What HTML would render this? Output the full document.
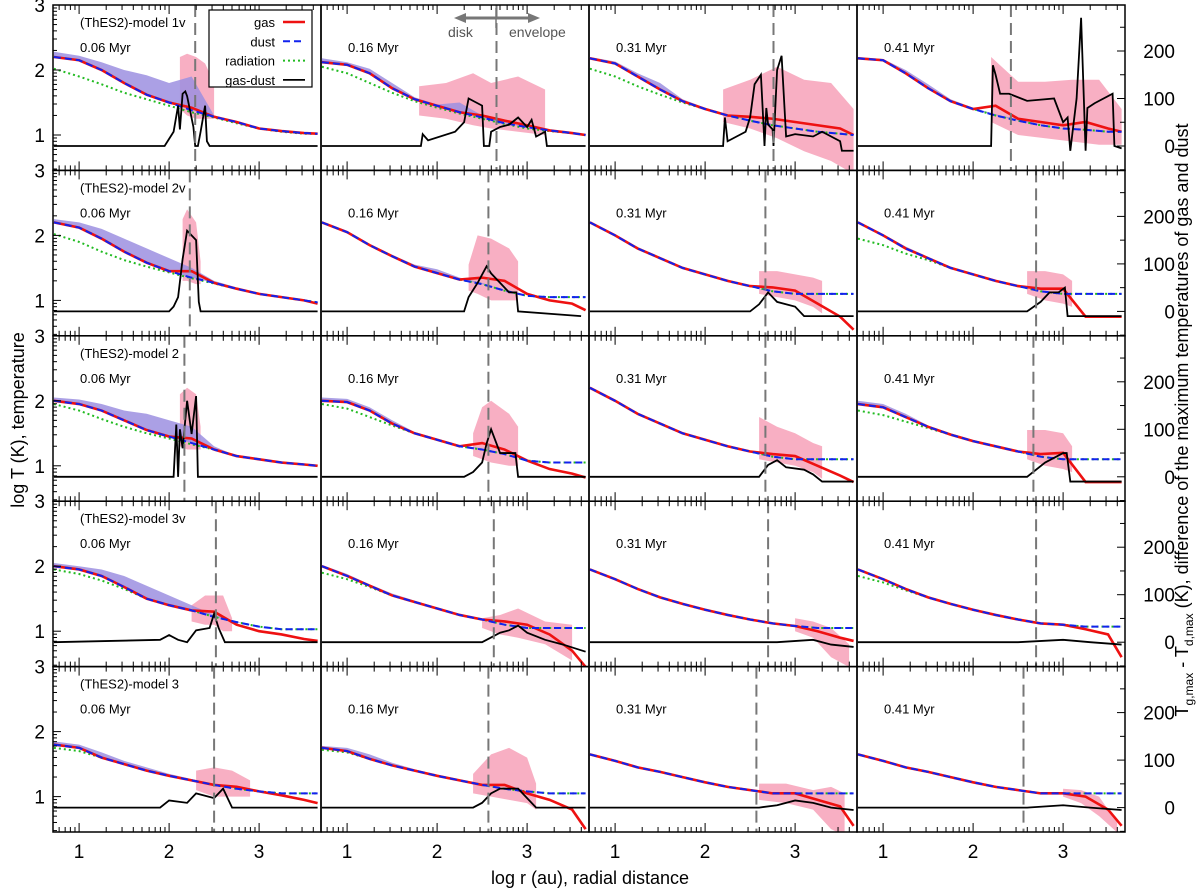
<!DOCTYPE html>
<html><head><meta charset="utf-8"><style>
body{margin:0;background:#fff;}
svg{display:block;font-family:"Liberation Sans",Arial,sans-serif;}
</style></head><body>
<svg id="chart" width="1200" height="894" viewBox="0 0 1200 894" xmlns="http://www.w3.org/2000/svg">
<text transform="translate(24,420) rotate(-90)" text-anchor="middle" font-size="18">log T (K), temperature</text>
<text transform="translate(1188,420) rotate(-90)" text-anchor="middle" font-size="18">T<tspan font-size="12" dy="5">g,max</tspan><tspan dy="-5"> - T</tspan><tspan font-size="12" dy="5">d,max</tspan><tspan dy="-5"> (K), difference of the maximum temperatures of gas and dust</tspan></text>
<text x="590" y="884" text-anchor="middle" font-size="18">log r (au), radial distance</text>
<g id="panels"></g>
</svg>
<script>
const xd=[0.72,1,1.25,1.5,1.75,2,2.25,2.5,2.75,3,3.25,3.5,3.65];
const modelNames=["(ThES2)-model 1v","(ThES2)-model 2v","(ThES2)-model 2","(ThES2)-model 3v","(ThES2)-model 3"];
const times=["0.06 Myr","0.16 Myr","0.31 Myr","0.41 Myr"];
const dashX=[2.29,2.66,2.76,2.42, 2.23,2.57,2.67,2.7, 2.17,2.57,2.67,2.67, 2.52,2.63,2.7,2.7, 2.5,2.57,2.57,2.56];
const dustT=[
[2.2,2.15,2.0,1.8,1.62,1.5,1.38,1.28,1.2,1.1,1.06,1.03,1.02],
[2.12,2.08,1.95,1.72,1.55,1.45,1.35,1.27,1.18,1.12,1.07,1.03,1.0],
[2.18,2.1,1.9,1.7,1.52,1.4,1.3,1.22,1.15,1.1,1.05,1.02,1.0],
[2.18,2.15,1.95,1.72,1.52,1.4,1.3,1.22,1.15,1.1,1.08,1.05,1.05],
[2.2,2.12,1.95,1.75,1.58,1.45,1.35,1.27,1.18,1.1,1.05,1.0,0.97],
[2.2,2.05,1.85,1.68,1.52,1.42,1.32,1.25,1.15,1.07,1.05,1.05,1.05],
[2.2,2.0,1.8,1.65,1.5,1.4,1.3,1.22,1.14,1.1,1.1,1.1,1.1],
[2.2,2.0,1.8,1.65,1.5,1.4,1.3,1.22,1.14,1.1,1.1,1.1,1.1],
[2.0,1.95,1.85,1.7,1.55,1.45,1.35,1.25,1.15,1.1,1.05,1.02,1.0],
[2.0,1.98,1.85,1.65,1.5,1.4,1.3,1.25,1.18,1.08,1.05,1.05,1.05],
[2.2,2.0,1.8,1.65,1.5,1.4,1.3,1.22,1.14,1.1,1.1,1.1,1.1],
[1.95,1.9,1.75,1.6,1.48,1.38,1.3,1.22,1.14,1.1,1.1,1.1,1.1],
[2.0,1.95,1.85,1.68,1.5,1.4,1.32,1.22,1.14,1.07,1.03,1.03,1.03],
[2.0,1.85,1.7,1.55,1.45,1.35,1.25,1.18,1.1,1.05,1.05,1.05,1.05],
[1.95,1.8,1.65,1.52,1.42,1.33,1.25,1.18,1.12,1.08,1.05,1.05,1.05],
[1.95,1.8,1.65,1.52,1.42,1.33,1.25,1.18,1.12,1.1,1.07,1.07,1.07],
[1.8,1.75,1.6,1.5,1.4,1.32,1.25,1.18,1.12,1.08,1.05,1.05,1.05],
[1.75,1.7,1.58,1.48,1.4,1.32,1.25,1.18,1.12,1.08,1.05,1.05,1.05],
[1.65,1.55,1.45,1.38,1.3,1.22,1.15,1.1,1.05,1.05,1.05,1.05,1.05],
[1.65,1.55,1.45,1.38,1.3,1.22,1.15,1.1,1.05,1.05,1.05,1.05,1.05]];
const gasT=[
[2.2,2.15,2.0,1.8,1.62,1.5,1.42,1.28,1.2,1.1,1.06,1.03,1.02],
[2.12,2.08,1.95,1.72,1.55,1.45,1.35,1.3,1.22,1.15,1.07,1.03,1.0],
[2.18,2.1,1.9,1.7,1.52,1.4,1.3,1.28,1.25,1.2,1.15,1.1,1.0],
[2.18,2.15,1.95,1.72,1.52,1.4,1.45,1.25,1.2,1.15,1.2,1.1,1.05],
[2.2,2.12,1.95,1.75,1.58,1.45,1.45,1.27,1.18,1.1,1.05,1.0,0.95],
[2.2,2.05,1.85,1.68,1.52,1.42,1.32,1.35,1.3,1.1,1.0,0.95,0.85],
[2.2,2.0,1.8,1.65,1.5,1.4,1.3,1.22,1.2,1.15,0.95,0.75,0.55],
[2.2,2.0,1.8,1.65,1.5,1.4,1.3,1.22,1.18,1.18,0.75,0.75,0.75],
[2.0,1.95,1.85,1.7,1.55,1.45,1.42,1.25,1.15,1.1,1.05,1.02,1.0],
[2.0,1.98,1.85,1.65,1.5,1.4,1.3,1.35,1.25,1.08,0.95,0.88,0.82],
[2.2,2.0,1.8,1.65,1.5,1.4,1.3,1.22,1.18,1.15,1.0,0.85,0.75],
[1.95,1.9,1.75,1.6,1.48,1.38,1.3,1.22,1.18,1.2,0.75,0.75,0.75],
[2.0,1.95,1.85,1.68,1.5,1.4,1.32,1.3,1.1,1.0,0.95,0.88,0.85],
[2.0,1.85,1.7,1.55,1.45,1.35,1.25,1.18,1.15,1.1,0.95,0.7,0.45],
[1.95,1.8,1.65,1.52,1.42,1.33,1.25,1.18,1.12,1.08,1.0,0.9,0.85],
[1.95,1.8,1.65,1.52,1.42,1.33,1.25,1.18,1.12,1.1,1.03,0.95,0.6],
[1.8,1.75,1.6,1.5,1.4,1.32,1.25,1.18,1.15,1.08,1.02,0.95,0.9],
[1.75,1.7,1.58,1.48,1.4,1.32,1.25,1.18,1.18,1.05,0.95,0.8,0.5],
[1.65,1.55,1.45,1.38,1.3,1.22,1.15,1.1,1.05,1.05,0.95,0.85,0.55],
[1.65,1.55,1.45,1.38,1.3,1.22,1.15,1.1,1.05,1.05,1.0,0.8,0.55]];
const radT=[
[2.02,1.9,1.78,1.65,1.55,1.45,1.35,1.27,1.18,1.1,1.05,1.02,1.02],
[2.05,1.95,1.8,1.65,1.52,1.42,1.33,1.25,1.17,1.1,1.06,1.03,1.0],
[2.02,1.9,1.75,1.62,1.5,1.4,1.3,1.22,1.15,1.1,1.05,1.02,1.0],
[2.18,2.15,1.95,1.72,1.52,1.4,1.3,1.22,1.15,1.1,1.08,1.05,1.05],
[2.02,1.9,1.75,1.62,1.52,1.43,1.34,1.26,1.18,1.1,1.05,1.0,0.97],
[2.2,2.05,1.85,1.68,1.52,1.42,1.32,1.25,1.15,1.07,1.05,1.05,1.05],
[2.2,2.0,1.8,1.65,1.5,1.4,1.3,1.22,1.14,1.1,1.1,1.1,1.1],
[1.95,1.85,1.72,1.62,1.5,1.4,1.3,1.22,1.14,1.1,1.1,1.1,1.1],
[1.95,1.85,1.72,1.6,1.5,1.42,1.33,1.25,1.15,1.1,1.05,1.02,1.0],
[1.95,1.88,1.75,1.62,1.5,1.4,1.3,1.25,1.18,1.08,1.05,1.05,1.05],
[2.2,2.0,1.8,1.65,1.5,1.4,1.3,1.22,1.14,1.1,1.1,1.1,1.1],
[1.85,1.78,1.68,1.58,1.48,1.38,1.3,1.22,1.14,1.1,1.1,1.1,1.1],
[1.95,1.88,1.78,1.65,1.5,1.4,1.32,1.22,1.14,1.07,1.03,1.03,1.03],
[1.9,1.8,1.68,1.55,1.45,1.35,1.25,1.18,1.1,1.05,1.05,1.05,1.05],
[1.95,1.8,1.65,1.52,1.42,1.33,1.25,1.18,1.12,1.08,1.05,1.05,1.05],
[1.85,1.75,1.63,1.52,1.42,1.33,1.25,1.18,1.12,1.1,1.07,1.07,1.07],
[1.75,1.7,1.6,1.5,1.4,1.32,1.25,1.18,1.12,1.08,1.05,1.05,1.05],
[1.72,1.68,1.58,1.48,1.4,1.32,1.25,1.18,1.12,1.08,1.05,1.05,1.05],
[1.65,1.55,1.45,1.38,1.3,1.22,1.15,1.1,1.05,1.05,1.05,1.05,1.05],
[1.65,1.55,1.45,1.38,1.3,1.22,1.15,1.1,1.05,1.05,1.05,1.05,1.05]];
const purpleT=[
[2.28,2.22,2.12,2.0,1.92,1.8,1.9,1.3,1.2,1.1,1.06,1.03,1.02],
[2.18,2.12,2.02,1.8,1.58,1.47,1.5,1.3,1.2,1.12,1.07,1.03,1.0],
[2.2,2.13,1.95,1.8,1.55,1.42,1.32,1.24,1.15,1.1,1.05,1.02,1.0],
[2.2,2.17,2.0,1.78,1.55,1.42,1.32,1.24,1.16,1.1,1.08,1.05,1.05],
[2.25,2.2,2.1,1.95,1.8,1.65,1.5,1.3,1.2,1.1,1.05,1.0,0.97],
[2.22,2.07,1.87,1.7,1.55,1.48,1.35,1.27,1.15,1.07,1.05,1.05,1.05],
[2.2,2.0,1.8,1.65,1.5,1.4,1.3,1.22,1.14,1.1,1.1,1.1,1.1],
[2.22,2.02,1.83,1.67,1.52,1.4,1.3,1.22,1.14,1.1,1.1,1.1,1.1],
[2.05,2.02,1.95,1.85,1.8,1.7,1.6,1.3,1.15,1.1,1.05,1.02,1.0],
[2.05,2.03,1.9,1.7,1.52,1.42,1.32,1.27,1.18,1.08,1.05,1.05,1.05],
[2.2,2.0,1.8,1.65,1.5,1.4,1.3,1.22,1.14,1.1,1.1,1.1,1.1],
[2.0,1.95,1.8,1.62,1.5,1.4,1.3,1.22,1.14,1.1,1.1,1.1,1.1],
[2.05,2.0,1.95,1.85,1.7,1.55,1.4,1.25,1.15,1.07,1.03,1.03,1.03],
[2.02,1.88,1.72,1.58,1.47,1.36,1.25,1.18,1.1,1.05,1.05,1.05,1.05],
[1.95,1.8,1.65,1.52,1.42,1.33,1.25,1.18,1.12,1.08,1.05,1.05,1.05],
[1.95,1.8,1.65,1.52,1.42,1.33,1.25,1.18,1.12,1.1,1.07,1.07,1.07],
[1.85,1.8,1.68,1.55,1.45,1.35,1.27,1.18,1.12,1.08,1.05,1.05,1.05],
[1.78,1.75,1.65,1.52,1.42,1.33,1.25,1.18,1.12,1.08,1.05,1.05,1.05],
[1.65,1.55,1.45,1.38,1.3,1.22,1.15,1.1,1.05,1.05,1.05,1.05,1.05],
[1.65,1.55,1.45,1.38,1.3,1.22,1.15,1.1,1.05,1.05,1.05,1.05,1.05]];
const pinkX=[
[2.12,2.2,2.3,2.4,2.5],[1.8,2.1,2.4,2.6,2.9,3.2],[2.2,2.5,2.8,3.1,3.4,3.65],[2.2,2.5,2.8,3.1,3.4,3.65],
[2.15,2.2,2.3,2.35],[2.35,2.45,2.6,2.8,2.9],[2.6,2.8,3.0,3.2,3.3],[2.6,2.8,3.0,3.1],
[2.12,2.2,2.3,2.35],[2.4,2.5,2.6,2.8,2.9],[2.6,2.8,3.0,3.2,3.3],[2.6,2.8,3.0,3.1],
[2.25,2.4,2.5,2.6,2.7],[2.5,2.7,2.9,3.2,3.5],[3.0,3.2,3.4,3.6],[],
[2.3,2.5,2.7,2.9],[2.4,2.6,2.8,3.0,3.1],[2.6,2.9,3.2,3.4,3.55],[3.0,3.2,3.4,3.6]];
const pinkHi=[
[2.2,2.25,2.2,2.1,1.8],[1.75,1.8,1.95,1.8,1.9,1.7],[1.7,1.85,2.05,1.85,1.8,1.4],[2.2,1.82,1.82,1.85,1.85,1.4],
[2.25,2.4,2.2,1.6],[1.55,2.0,1.95,1.8,1.6],[1.45,1.45,1.4,1.35,1.3],[1.45,1.45,1.4,1.3],
[2.1,2.2,2.1,1.6],[1.5,1.9,2.0,1.8,1.6],[1.75,1.6,1.5,1.35,1.3],[1.55,1.55,1.5,1.3],
[1.4,1.55,1.55,1.55,1.2],[1.2,1.25,1.35,1.15,1.1],[1.2,1.15,1.05,0.8],[],
[1.4,1.45,1.4,1.25],[1.35,1.65,1.75,1.6,1.2],[1.2,1.2,1.1,1.15,1.05],[1.12,1.1,1.0,0.6]];
const pinkLo=[
[1.4,1.3,1.25,1.25,1.25],[1.3,1.25,1.15,1.1,1.05,1.0],[1.2,1.1,0.95,0.75,0.6,0.4],[1.2,1.0,0.95,0.9,0.85,0.85],
[1.3,1.3,1.25,1.25],[1.15,1.1,1.0,1.0,1.0],[1.1,1.05,1.0,0.9,0.8],[1.1,1.0,0.95,0.9],
[1.3,1.25,1.25,1.25],[1.15,1.1,1.05,1.0,1.0],[1.1,1.05,1.0,0.9,0.8],[1.1,1.0,0.95,0.9],
[1.15,1.1,1.1,1.0,1.0],[1.05,0.95,0.9,0.8,0.55],[1.0,0.9,0.6,0.45],[],
[1.1,1.0,1.0,1.0],[1.05,1.0,0.95,0.9,0.8],[0.95,0.9,0.8,0.5,0.4],[1.0,0.9,0.7,0.45]];
const gdX=[
[0.72,1.95,2.0,2.05,2.1,2.12,2.15,2.18,2.2,2.27,2.29,2.3,2.32,2.35,2.4,2.42,2.45,3.65],
[0.72,1.82,1.84,1.9,2.2,2.3,2.35,2.4,2.5,2.52,2.58,2.6,2.7,2.8,2.9,3.0,3.05,3.1,3.2,3.22,3.65],
[0.72,2.2,2.22,2.25,2.35,2.45,2.5,2.55,2.62,2.65,2.66,2.68,2.7,2.75,2.76,2.8,2.85,2.9,3.0,3.2,3.3,3.5,3.52,3.65],
[0.72,2.2,2.22,2.25,2.3,2.4,2.6,2.9,3.0,3.05,3.08,3.15,3.2,3.25,3.27,3.35,3.55,3.57,3.65],
[0.72,2.0,2.05,2.1,2.15,2.2,2.3,2.33,2.35,3.65],
[0.72,2.3,2.35,2.45,2.55,2.6,2.7,2.8,2.88,2.9,3.6],
[0.72,2.5,2.6,2.7,2.8,3.0,3.1,3.2,3.65],
[0.72,2.6,2.75,2.85,2.95,3.02,3.05,3.65],
[0.72,2.05,2.08,2.1,2.12,2.15,2.2,2.25,2.3,2.32,2.35,3.65],
[0.72,2.3,2.4,2.5,2.55,2.6,2.7,2.8,2.87,2.9,3.65],
[0.72,2.6,2.7,2.8,2.9,3.1,3.2,3.3,3.65],
[0.72,2.6,2.8,2.9,3.0,3.04,3.08,3.65],
[0.72,1.9,2.0,2.1,2.2,2.3,2.45,2.5,2.55,2.62,3.65],
[0.72,2.5,2.7,2.8,2.9,3.0,3.2,3.4,3.65],
[0.72,2.8,3.2,3.4,3.65],
[0.72,2.5,3.0,3.3,3.65],
[0.72,1.9,2.0,2.2,2.3,2.4,2.5,2.6,2.65,2.7,3.65],
[0.72,2.4,2.5,2.6,2.7,2.8,2.9,3.0,3.1,3.65],
[0.72,2.6,2.8,3.0,3.2,3.4,3.65],
[0.72,2.6,3.0,3.3,3.65]];
const gdV=[
[0,0,15,30,85,35,110,115,105,40,0,0,0,30,85,10,0,0],
[0,0,25,12,30,50,100,95,85,0,0,30,40,45,60,40,55,20,30,0,0],
[0,0,60,10,20,30,60,130,150,40,0,80,45,35,0,160,190,20,25,20,30,10,-10,-10],
[0,0,170,150,110,110,95,100,50,60,-10,100,270,-10,80,90,110,0,-5],
[0,0,10,30,110,170,150,20,0,0],
[0,0,30,60,95,80,60,40,40,0,-10],
[0,0,15,40,20,10,-10,-10,-10],
[0,0,20,40,40,50,-10,-10],
[0,0,110,0,100,60,160,90,170,0,0,0],
[0,0,10,30,70,100,50,50,50,0,0],
[0,0,25,35,20,15,5,-10,-10],
[0,0,30,40,50,50,-10,-10],
[0,5,15,5,0,25,30,60,30,0,0],
[0,0,20,25,35,20,5,-5,-20],
[0,0,5,-5,-10],
[0,0,5,0,-5],
[0,0,15,10,30,25,20,40,20,0,0],
[0,0,10,30,40,40,40,20,0,0],
[0,0,5,15,10,0,-5],
[0,0,5,0,-5]];
</script>
<script>
(function(){
const NS="http://www.w3.org/2000/svg";
const root=document.getElementById('panels');
const W=268,H=165.4,L=53,T=5;
function mk(tag,attrs,parent){const e=document.createElementNS(NS,tag);for(const k in attrs)e.setAttribute(k,attrs[k]);(parent||root).appendChild(e);return e;}
const defs=mk('defs',{});
const minorX=[];
for(let k=0;k<=3;k++)for(let m=1;m<10;m++){const v=k+Math.log10(m);if(v>0.71&&v<3.69&&m>1)minorX.push(v);}
for(let r=0;r<5;r++)for(let c=0;c<4;c++){
  const p=r*4+c;
  const x0=L+W*c,y0=T+H*r;
  const sx=v=>x0+(v-0.71)*90;
  const sy=v=>y0+(3-v)*65;
  const sg=v=>y0+141-v*0.475;
  const cp=mk('clipPath',{id:'cp'+p},defs);
  mk('rect',{x:x0,y:y0,width:W,height:H},cp);
  const g=mk('g',{'clip-path':'url(#cp'+p+')'});
  
  
  // pink band
  const px=pinkX[p];
  if(px.length){
    let d='M'+px.map((v,i)=>sx(v)+','+sy(pinkHi[p][i])).join('L');
    for(let i=px.length-1;i>=0;i--)d+='L'+sx(px[i])+','+sy(pinkLo[p][i]);
    const e=mk('path',{d:d+'Z',fill:'#f7a6bd',opacity:0.9},g);
    
    
  }
  // purple band
  let d='M'+xd.map((v,i)=>sx(v)+','+sy(purpleT[p][i])).join('L');
  for(let i=xd.length-1;i>=0;i--)d+='L'+sx(xd[i])+','+sy(dustT[p][i]);
  const pb=mk('path',{d:d+'Z',fill:'#9c8fe0',opacity:0.85},g);
  
  
  const line=(arr,xs,f,st)=>{const e=mk('path',Object.assign({d:'M'+xs.map((v,i)=>sx(v)+','+f(arr[i])).join('L'),fill:'none'},st),g);return e;};
  const rl=line(radT[p],xd,sy,{stroke:'#22bb22','stroke-width':2,'stroke-dasharray':'2,3'});
  
  
  const gl=line(gasT[p],xd,sy,{stroke:'#ee1111','stroke-width':2.6});
  
  
  const dl=line(dustT[p],xd,sy,{stroke:'#1122ee','stroke-width':2,'stroke-dasharray':'7,4'});
  
  
  const bl=line(gdV[p],gdX[p],sg,{stroke:'#000','stroke-width':1.8});
  
  
  const dv=mk('line',{x1:sx(dashX[p]),x2:sx(dashX[p]),y1:y0,y2:y0+H,stroke:'#777','stroke-width':2,'stroke-dasharray':'12,6'},g);
  
  
  // frame
  const fr=mk('rect',{x:x0,y:y0,width:W,height:H,fill:'none',stroke:'#000','stroke-width':1.5});
  
  
  // ticks x
  [1,2,3].forEach(v=>{mk('line',{x1:sx(v),x2:sx(v),y1:y0+H,y2:y0+H-9,stroke:'#000'});mk('line',{x1:sx(v),x2:sx(v),y1:y0,y2:y0+9,stroke:'#000'});});
  minorX.forEach(v=>{mk('line',{x1:sx(v),x2:sx(v),y1:y0+H,y2:y0+H-5,stroke:'#000'});mk('line',{x1:sx(v),x2:sx(v),y1:y0,y2:y0+5,stroke:'#000'});});
  if(c===0){[1,2,3].forEach(v=>mk('line',{x1:x0,x2:x0+8,y1:sy(v),y2:sy(v),stroke:'#000'}));
    for(let k=0;k<3;k++)for(let m=2;m<10;m++){const v=k+Math.log10(m)*1; if(v>0.46)mk('line',{x1:x0,x2:x0+4,y1:sy(v),y2:sy(v),stroke:'#000'});}}
  if(c===3){for(let v=-50;v<=250;v+=50)mk('line',{x1:x0+W,x2:x0+W-(v%100===0?8:5),y1:sg(v),y2:sg(v),stroke:'#000'});}
  // labels
  if(c===0){[1,2,3].forEach(v=>{const t=mk('text',{x:x0-8,y:sy(v)+7,'text-anchor':'end','font-size':19});t.textContent=v;});
    const mn=mk('text',{x:x0+27,y:y0+22,'font-size':13});mn.textContent=modelNames[r];}
  if(c===3){[0,100,200].forEach(v=>{const t=mk('text',{x:x0+W+50,y:sg(v)+7,'text-anchor':'end','font-size':19});t.textContent=v;});}
  const tm=mk('text',{x:x0+27,y:y0+47,'font-size':13});tm.textContent=times[c];
  
  
  if(r===4){[1,2,3].forEach(v=>{const t=mk('text',{x:sx(v),y:y0+H+26,'text-anchor':'middle','font-size':19});t.textContent=v;});}
}
// legend
const lg=mk('g',{});


mk('rect',{x:209,y:10,width:103,height:77,fill:'#fff',stroke:'#000','stroke-width':1.2},lg);
const names=['gas','dust','radiation','gas-dust'];
const sty=[{stroke:'#ee1111','stroke-width':2.6},{stroke:'#1122ee','stroke-width':2,'stroke-dasharray':'7,4'},{stroke:'#22bb22','stroke-width':2,'stroke-dasharray':'2,3'},{stroke:'#000','stroke-width':1.8}];
names.forEach((n,i)=>{const y=22+i*19.3;
  const t=mk('text',{x:275,y:y+5,'text-anchor':'end','font-size':13},lg);t.textContent=n;
  
  
  mk('line',Object.assign({x1:283,x2:305,y1:y,y2:y},sty[i]),lg);});
// disk/envelope arrow
const ar=mk('g',{});


mk('line',{x1:462,x2:532,y1:18,y2:18,stroke:'#777','stroke-width':3},ar);
mk('path',{d:'M454,18L466,13L466,23Z',fill:'#777'},ar);
mk('path',{d:'M540,18L528,13L528,23Z',fill:'#777'},ar);
mk('line',{x1:496,x2:496,y1:8,y2:28,stroke:'#777','stroke-width':1.5},ar);
const t1=mk('text',{x:448,y:37,'font-size':14,fill:'#555'},ar);t1.textContent='disk';
const t2=mk('text',{x:509,y:37,'font-size':14,fill:'#555'},ar);t2.textContent='envelope';
})();
</script>
</body></html>
